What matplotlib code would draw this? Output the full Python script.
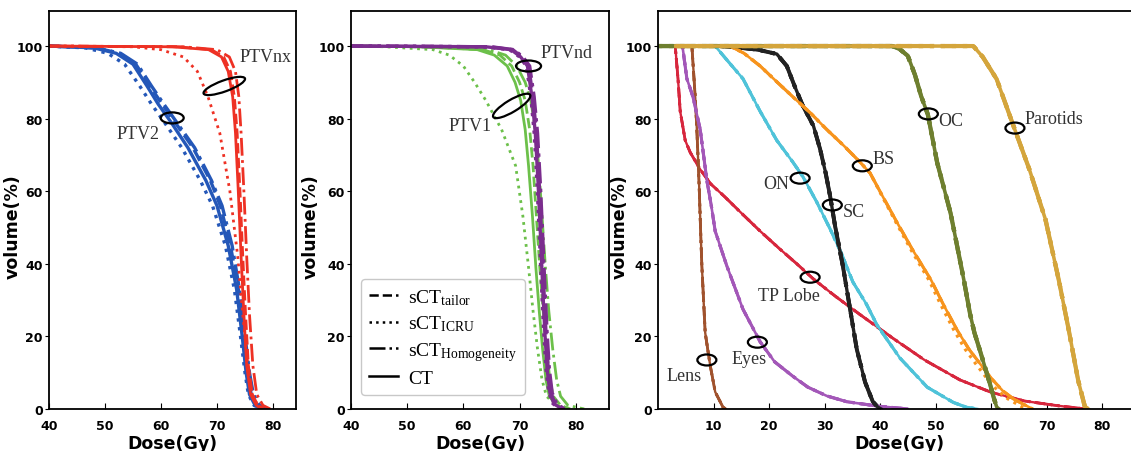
import matplotlib
matplotlib.use("Agg")
import matplotlib.pyplot as plt
from matplotlib.patches import Ellipse
from matplotlib.lines import Line2D
from matplotlib.transforms import ScaledTranslation

plt.rcParams['mathtext.fontset'] = 'custom'
plt.rcParams['mathtext.rm'] = 'Liberation Serif'
plt.rcParams['mathtext.it'] = 'Liberation Serif:italic'

# ---------------- panel 1: PTVnx (red) and PTV2 (blue) ----------------
ptv2_v = [100, 99.5, 98, 95, 89, 84, 79, 72, 63, 56, 45, 33, 20, 10, 4, 1, 0]
ptv2_ct = [40, 48, 52, 55, 57.5, 59.5, 61.8, 64.8, 68, 70, 72, 73.5, 74.5, 75.2, 75.8, 76.8, 78]
ptv2_icru = [40, 46.5, 50.5, 53.5, 56.2, 58.3, 60.6, 63.7, 67, 69.2, 71.5, 73.1, 74.2, 75, 75.6, 76.6, 78]
ptv2_tailor = [40, 48.5, 52.5, 55.5, 58, 60.2, 62.5, 65.7, 68.8, 70.6, 72.4, 73.8, 74.8, 75.5, 76.1, 77.2, 78.5]
ptv2_homo = [40, 48.5, 52.8, 55.8, 58.3, 60.5, 62.8, 66, 69, 70.9, 72.7, 74, 75, 75.8, 76.5, 77.6, 79]

ptvnx_v = [100, 99.8, 99, 97, 93, 86, 76, 60, 42, 26, 12, 4, 1, 0]
ptvnx_ct = [40, 62, 68.5, 70.8, 72, 72.8, 73.3, 73.8, 74.3, 74.8, 75.3, 76, 77, 78]
ptvnx_tailor = [40, 63, 69, 71.2, 72.4, 73.1, 73.6, 74.1, 74.6, 75.1, 75.6, 76.3, 77.3, 78.3]
ptvnx_homo = [40, 64, 70, 72.2, 73.3, 73.9, 74.3, 74.8, 75.3, 75.8, 76.4, 77.1, 78.2, 79.5]
ptvnx_icru = [40, 55, 60, 64, 66.5, 68.4, 70.5, 72.3, 73.7, 74.6, 75.5, 76.3, 77.3, 78.5]

# ---------------- panel 2: PTVnd (purple) and PTV1 (green) ----------------
ptvnd_v = [100, 99.8, 99, 97, 94.5, 86, 76, 62, 48.5, 34, 21, 11, 4.5, 1.5, 0]
ptvnd_ct = [40, 64, 68.5, 70.2, 71.4, 72.2, 72.8, 73.3, 73.7, 74.1, 74.5, 74.9, 75.4, 76.1, 77.5]
ptvnd_tailor = [40, 64.5, 68.8, 70.4, 71.6, 72.4, 73, 73.5, 73.9, 74.3, 74.7, 75.1, 75.6, 76.3, 77.8]
ptvnd_icru = [40, 63.5, 68.2, 70, 71.2, 72, 72.6, 73.1, 73.5, 73.9, 74.3, 74.7, 75.2, 75.9, 77.2]
ptvnd_homo = [40, 65, 69, 70.6, 71.8, 72.6, 73.2, 73.7, 74.1, 74.5, 74.9, 75.3, 75.8, 76.6, 78]

ptv1_v = [100, 99.8, 99, 97.5, 94.5, 90, 85, 77, 67, 53, 39, 27, 16.5, 8, 3.5, 1, 0]
ptv1_ct = [40, 52, 62.5, 65.5, 67.8, 69.2, 70.2, 71, 71.6, 72.3, 72.9, 73.5, 74.1, 74.7, 75.3, 76.5, 78]
ptv1_tailor = [40, 53, 63.5, 66.5, 68.6, 70, 71, 71.8, 72.4, 73, 73.6, 74.2, 74.8, 75.4, 76, 77.3, 79]
ptv1_homo = [40, 54, 64.5, 67.5, 69.5, 71, 72, 72.8, 73.4, 74, 74.6, 75.2, 75.9, 76.6, 77.3, 78.6, 81.5]
ptv1_icru = [40, 46, 54.6, 57.5, 60, 62, 64, 66.8, 69.3, 70.6, 71.6, 72.4, 73.2, 74, 74.8, 76.5, 78.5]

# ---------------- panel 3: organs at risk ----------------
tp_d = [0, 3.1, 3.6, 4.0, 4.9, 5.8, 7.6, 9.5, 12, 15, 18.4, 22, 25, 28, 32, 36.4, 42.3, 48, 54.4, 60, 66, 72, 77]
tp_v = [100, 100, 91, 82, 74, 70.7, 66, 62, 58.5, 54, 49, 44, 40, 35.8, 31, 26, 19.5, 13.5, 8, 4.6, 2.2, 0.9, 0]
lens_d = [0, 6.1, 6.7, 7.0, 7.4, 7.7, 7.9, 8.5, 9.4, 10.3, 11.7, 12.2]
lens_v = [100, 100, 86, 77, 62, 48, 39.4, 21, 12, 4.7, 0.5, 0]
eyes_d = [0, 4.4, 5.2, 6.3, 7.6, 8.8, 9.6, 10.3, 12.4, 15.3, 18.4, 21, 24.3, 27, 30.4, 34, 39.5, 45]
eyes_v = [100, 100, 91, 86, 77, 63, 56, 49, 39.4, 27.5, 18.5, 13, 9, 6, 3.6, 2, 0.8, 0]
on_d = [0, 10.3, 12.5, 15.3, 18.4, 21.4, 24.3, 26.1, 28.6, 31, 33, 35.1, 37.5, 39.5, 43.6, 48.5, 53.2, 55.5, 57.5]
on_v = [100, 100, 96, 91, 82, 74, 68, 64, 57, 49.6, 43, 35, 29, 23, 14, 6, 1.8, 0.5, 0]
sc_d = [0, 11.2, 15, 18, 21.4, 23.2, 24.6, 26.1, 28, 29.2, 30.2, 31, 31.9, 33.3, 34.6, 35.8, 37.3, 38.7, 39.6, 40.2]
sc_v = [100, 100, 99.5, 99, 97.8, 94.5, 89, 83.5, 78, 71.6, 65, 58.7, 50.4, 39.4, 27.5, 16.5, 7.4, 2, 0.5, 0]
bs_d = [0, 13, 15.5, 18.4, 21.5, 24.3, 27.5, 30.4, 33.5, 36.4, 38.2, 40.5, 43.2, 46, 49.2, 51.5, 53.9, 56, 58, 60, 62.1, 64, 65.7, 67.5]
bs_v = [100, 100, 98, 94.5, 90, 86, 81.5, 77, 72.5, 68, 65, 58.5, 51, 43.5, 35.5, 28.5, 21.7, 16.5, 12.5, 8.5, 5, 2.8, 1.4, 0]
bs_icru_d = [0, 13, 15.5, 18.4, 21.5, 24.3, 27.5, 30.4, 33.5, 36.4, 38.2, 40.4, 43, 45.7, 48.8, 51, 53.3, 55.3, 57.2, 59.2, 61.2, 63, 64.6, 66.2]
oc_d = [0, 42.2, 43.5, 45, 46.3, 47.4, 48.6, 50.3, 52.7, 54, 55.1, 56.2, 57, 58, 59, 59.8, 60.5, 61, 61.4]
oc_v = [100, 100, 99.2, 97.3, 92, 86.2, 81.2, 67.8, 54, 44, 35.5, 26.3, 21, 16.1, 11, 6.9, 3, 0.6, 0]
par_d = [3.2, 56.8, 58.5, 61, 64.2, 66.9, 69.8, 72.2, 74, 75.7, 76.9, 77.5]
par_v = [100, 100, 97, 90.9, 77.3, 66, 52.2, 35.5, 21.7, 7.8, 0.6, 0]

C_RED = '#ee3124'
C_BLUE = '#2457b8'
C_PURPLE = '#7b2d8e'
C_GREEN = '#6cc04a'

fig = plt.figure(figsize=(11.31, 4.52), dpi=100)
ax1 = fig.add_axes([0.0433, 0.093, 0.2184, 0.880])
ax2 = fig.add_axes([0.3103, 0.093, 0.2281, 0.880])
ax3 = fig.add_axes([0.5818, 0.093, 0.4270, 0.880])

serif = 'Liberation Serif'


def ring(ax, d, v, w, h, ang=0):
    # ellipse drawn in pixels, centred on a data point
    tr = fig.dpi_scale_trans + ScaledTranslation(d, v, ax.transData)
    ax.add_patch(Ellipse((0, 0), w / 100, h / 100, angle=ang, transform=tr,
                         fill=False, lw=1.6, ec='black', zorder=6, clip_on=False))


def style(ax, xlim, xticks, ylab_x):
    ax.set_xlim(*xlim)
    ax.set_ylim(0, 109.6)
    ax.set_xticks(xticks)
    ax.set_yticks([0, 20, 40, 60, 80, 100])
    ax.tick_params(axis='x', direction='in', length=4, pad=7, labelsize=9)
    ax.tick_params(axis='y', direction='out', length=3, pad=1.5, labelsize=9)
    for lab in ax.get_xticklabels() + ax.get_yticklabels():
        lab.set_fontweight('bold')
    ax.set_xlabel('Dose(Gy)', fontsize=12.5, fontweight='bold', labelpad=2)
    ax.set_ylabel('volume(%)', fontsize=12.5, fontweight='bold')
    ax.yaxis.set_label_coords(ylab_x, 0.46)
    for s in ax.spines.values():
        s.set_linewidth(1.3)


def four(ax, v, ct, tailor, icru, homo, color, lw=2.0):
    ax.plot(icru, v, ls=':', color=color, lw=lw)
    ax.plot(homo, v, ls='-.', color=color, lw=lw)
    ax.plot(tailor, v, ls='--', color=color, lw=lw)
    ax.plot(ct, v, ls='-', color=color, lw=lw)


# panel 1
four(ax1, ptv2_v, ptv2_ct, ptv2_tailor, ptv2_icru, ptv2_homo, C_BLUE, lw=2.4)
four(ax1, ptvnx_v, ptvnx_ct, ptvnx_tailor, ptvnx_icru, ptvnx_homo, C_RED)
style(ax1, (40, 84.1), [40, 50, 60, 70, 80], -0.11)
ring(ax1, 71.3, 89, 44, 11, 20)
ring(ax1, 62, 80.2, 23, 11)
ax1.text(78.6, 97.2, 'PTVnx', family=serif, fontsize=13, ha='center', va='center', color='#333333')
ax1.text(55.9, 75.8, 'PTV2', family=serif, fontsize=13, ha='center', va='center', color='#333333')

# panel 2
four(ax2, ptv1_v, ptv1_ct, ptv1_tailor, ptv1_icru, ptv1_homo, C_GREEN)
four(ax2, ptvnd_v, ptvnd_ct, ptvnd_tailor, ptvnd_icru, ptvnd_homo, C_PURPLE, lw=2.4)
style(ax2, (40, 85.9), [40, 50, 60, 70, 80], -0.12)
ring(ax2, 71.6, 94.5, 25, 11)
ring(ax2, 68.6, 83.5, 43, 12, 31)
ax2.text(78.4, 98.3, 'PTVnd', family=serif, fontsize=13, ha='center', va='center', color='#333333')
ax2.text(61.2, 78.2, 'PTV1', family=serif, fontsize=13, ha='center', va='center', color='#333333')

handles = [Line2D([], [], color='black', ls='--', lw=1.8),
           Line2D([], [], color='black', ls=':', lw=1.8),
           Line2D([], [], color='black', ls='-.', lw=1.8),
           Line2D([], [], color='black', ls='-', lw=1.8)]
labels = [r'sCT$_{\mathrm{tailor}}$', r'sCT$_{\mathrm{ICRU}}$',
          r'sCT$_{\mathrm{Homogeneity}}$', 'CT']
leg = ax2.legend(handles, labels, loc='lower left', bbox_to_anchor=(0.04, 0.035),
                 borderaxespad=0, prop={'family': serif, 'size': 14},
                 handlelength=1.5, handletextpad=0.5, labelspacing=0.35,
                 borderpad=0.4, frameon=True, fancybox=True)
leg.get_frame().set_edgecolor('#bbbbbb')
leg.get_frame().set_linewidth(1.0)

# panel 3
organs = [
    (tp_d, tp_v, '#d7263d', 2.0),
    (lens_d, lens_v, '#a0522d', 2.0),
    (eyes_d, eyes_v, '#a357b8', 2.2),
    (on_d, on_v, '#4fc3d9', 2.2),
    (sc_d, sc_v, '#222222', 2.8),
    (bs_d, bs_v, '#f7941d', 2.2),
    (oc_d, oc_v, '#6e7f2f', 3.0),
    (par_d, par_v, '#d4a53c', 3.0),
]
for d, v, c, lw in organs:
    ax3.plot(d, v, ls='-.', color=c, lw=lw)
    ax3.plot(d, v, ls='--', color=c, lw=lw)
    if d is bs_d:
        ax3.plot(bs_icru_d, v, ls=':', color=c, lw=lw)
    else:
        ax3.plot(d, v, ls=':', color=c, lw=lw)
    ax3.plot(d, v, ls='-', color=c, lw=lw * 0.85)

style(ax3, (0, 87), [10, 20, 30, 40, 50, 60, 70, 80], -0.06)
ax3.spines['right'].set_visible(False)

rings3 = [(8.8, 13.5), (17.9, 18.4), (27.4, 36.3), (25.6, 63.6),
          (31.4, 56.2), (36.8, 67), (48.7, 81.3), (64.3, 77.4)]
for d, v in rings3:
    ring(ax3, d, v, 19, 11)

names3 = ['Lens', 'Eyes', 'TP Lobe', 'ON', 'SC', 'BS', 'OC', 'Parotids']
name_pos = [(4.7, 9.1), (16.4, 13.8), (23.6, 31.4), (21.3, 62),
            (35.3, 54.5), (40.7, 69), (52.8, 79.4), (71.4, 79.9)]
for n, (d, v) in zip(names3, name_pos):
    ax3.text(d, v, n, family=serif, fontsize=13, ha='center', va='center', color='#333333')

fig.savefig('out.png', dpi=100, facecolor='white')
